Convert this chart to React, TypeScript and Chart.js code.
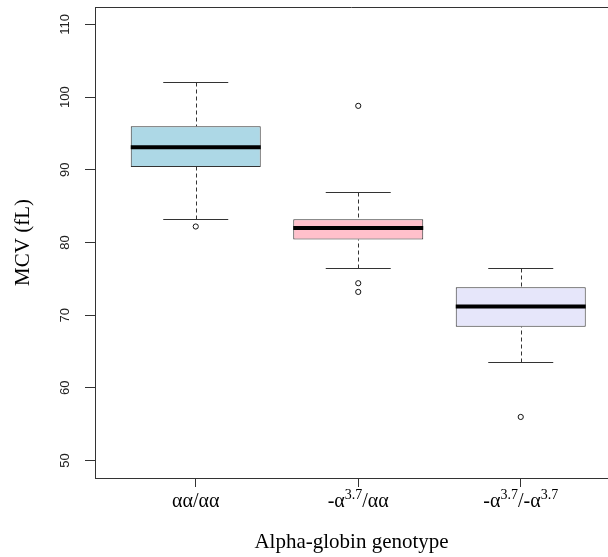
import React, { useEffect, useRef } from 'react';
import { Chart, registerables } from 'chart.js';

Chart.register(...registerables);

// ---- data ----
const categories = ['αα/αα', '-α3.7/αα', '-α3.7/-α3.7'];
// tick label pieces: [text, isSuperscript]
const tickLabelParts: [string, boolean][][] = [
  [['αα/αα', false]],
  [['-α', false], ['3.7', true], ['/αα', false]],
  [['-α', false], ['3.7', true], ['/-α', false], ['3.7', true]],
];
const whiskerLow = [83.2, 76.5, 63.6];
const q1 = [90.4, 80.4, 68.4];
const median = [93.1, 82.0, 71.2];
const q3 = [96.0, 83.2, 73.85];
const whiskerHigh = [102.1, 86.9, 76.5];
const outlierGroup = [1, 2, 2, 2, 3];
const outlierValue = [82.2, 98.8, 74.4, 73.2, 56.0];
const yTicks = [50, 60, 70, 80, 90, 100, 110];
const xTitle = 'Alpha-globin genotype';
const yTitle = 'MCV (fL)';

const boxColors = ['#ADD8E6', '#FFC0CB', '#E6E6FA'];
const LINE = '#333333';
const SERIF = '"Liberation Serif", "Times New Roman", serif';
const SANS = '"Liberation Sans", Arial, sans-serif';

const boxPlugin = {
  id: 'boxExtras',
  afterDatasetsDraw(chart: any) {
    const { ctx } = chart;
    const x = chart.scales.x;
    const y = chart.scales.y;
    ctx.save();
    categories.forEach((_, i) => {
      const c = i + 1;
      const cx = Math.round(x.getPixelForValue(c)) + 0.5;
      const capL = x.getPixelForValue(c - 0.2);
      const capR = x.getPixelForValue(c + 0.2);
      const boxL = x.getPixelForValue(c - 0.4);
      const boxR = x.getPixelForValue(c + 0.4);
      const yHi = Math.round(y.getPixelForValue(whiskerHigh[i])) + 0.5;
      const yLo = Math.round(y.getPixelForValue(whiskerLow[i])) + 0.5;
      const yQ1 = y.getPixelForValue(q1[i]);
      const yQ3 = y.getPixelForValue(q3[i]);
      ctx.strokeStyle = LINE;
      ctx.lineWidth = 1;
      // dashed whiskers
      ctx.setLineDash([4, 3]);
      ctx.beginPath();
      ctx.moveTo(cx, yHi);
      ctx.lineTo(cx, yQ3);
      ctx.moveTo(cx, yLo);
      ctx.lineTo(cx, yQ1);
      ctx.stroke();
      ctx.setLineDash([]);
      // caps
      ctx.beginPath();
      ctx.moveTo(capL, yHi);
      ctx.lineTo(capR, yHi);
      ctx.moveTo(capL, yLo);
      ctx.lineTo(capR, yLo);
      ctx.stroke();
      // median
      const yM = y.getPixelForValue(median[i]);
      ctx.strokeStyle = '#000';
      ctx.lineWidth = 4;
      ctx.lineCap = 'butt';
      ctx.beginPath();
      ctx.moveTo(boxL, yM);
      ctx.lineTo(boxR, yM);
      ctx.stroke();
    });
    ctx.restore();
  },
  afterDraw(chart: any) {
    const { ctx, chartArea } = chart;
    const x = chart.scales.x;
    const y = chart.scales.y;
    ctx.save();
    // top frame line
    ctx.strokeStyle = LINE;
    ctx.lineWidth = 1;
    ctx.beginPath();
    ctx.moveTo(chartArea.left, Math.round(chartArea.top) + 0.5);
    ctx.lineTo(chartArea.right, Math.round(chartArea.top) + 0.5);
    ctx.stroke();

    // y tick labels (rotated, R style)
    ctx.fillStyle = '#222';
    ctx.font = `13px ${SANS}`;
    ctx.textAlign = 'center';
    ctx.textBaseline = 'middle';
    yTicks.forEach((v) => {
      const py = y.getPixelForValue(v);
      ctx.save();
      ctx.translate(chartArea.left - 29.5, py);
      ctx.rotate(-Math.PI / 2);
      ctx.fillText(String(v), 0, 0);
      ctx.restore();
    });

    // x tick labels with superscripts
    ctx.fillStyle = '#000';
    ctx.textAlign = 'left';
    ctx.textBaseline = 'alphabetic';
    const mainFont = `20px ${SERIF}`;
    const supFont = `14px ${SERIF}`;
    const baseY = chartArea.bottom + 29;
    tickLabelParts.forEach((parts, i) => {
      let total = 0;
      const widths = parts.map(([t, sup]) => {
        ctx.font = sup ? supFont : mainFont;
        const w = ctx.measureText(t).width;
        total += w;
        return w;
      });
      let px = x.getPixelForValue(i + 1) - total / 2;
      parts.forEach(([t, sup], k) => {
        ctx.font = sup ? supFont : mainFont;
        ctx.fillText(t, px, sup ? baseY - 8.5 : baseY);
        px += widths[k];
      });
    });
    ctx.restore();
  },
};

export default function App() {
  const ref = useRef<HTMLCanvasElement>(null);
  useEffect(() => {
    if (!ref.current) return;
    const chart = new Chart(ref.current, {
      type: 'bar',
      data: {
        datasets: [
          {
            type: 'bar',
            label: 'box',
            data: categories.map((_, i) => ({ x: i + 1, y: [q1[i], q3[i]] })) as any,
            backgroundColor: boxColors,
            borderColor: LINE,
            borderWidth: 1,
            borderSkipped: false,
            categoryPercentage: 0.8,
            barPercentage: 1,
            grouped: false,
          } as any,
          {
            type: 'scatter',
            label: 'outliers',
            data: outlierValue.map((v, k) => ({ x: outlierGroup[k], y: v })),
            pointRadius: 2.6,
            pointBorderWidth: 1,
            borderColor: '#111',
            backgroundColor: 'rgba(0,0,0,0)',
            pointBackgroundColor: 'rgba(0,0,0,0)',
            pointBorderColor: '#111',
          } as any,
        ],
      },
      options: {
        responsive: false,
        animation: false,
        devicePixelRatio: 1,
        layout: { autoPadding: false, padding: { top: 7, left: 0, right: 0, bottom: 0 } },
        plugins: { legend: { display: false }, tooltip: { enabled: false } },
        scales: {
          x: {
            type: 'linear',
            offset: false,
            min: 0.38,
            max: 3.537,
            afterBuildTicks: (s: any) => {
              s.ticks = categories.map((_, i) => ({ value: i + 1 }));
            },
            afterFit: (s: any) => {
              s.height = 79;
            },
            ticks: { display: false },
            grid: {
              display: true,
              offset: false,
              drawOnChartArea: false,
              drawTicks: true,
              tickLength: 9,
              color: LINE,
              lineWidth: 1,
            },
            border: { display: true, color: LINE, width: 1 },
            title: {
              display: true,
              text: xTitle,
              color: '#000',
              font: { family: SERIF, size: 21, lineHeight: 1.2 },
              padding: { top: 0, bottom: 2 },
            },
          },
          y: {
            type: 'linear',
            min: 47.6,
            max: 112.4,
            afterBuildTicks: (s: any) => {
              s.ticks = yTicks.map((v) => ({ value: v }));
            },
            afterFit: (s: any) => {
              s.width = 95;
            },
            ticks: { display: false },
            grid: {
              display: true,
              drawOnChartArea: false,
              drawTicks: true,
              tickLength: 10,
              color: LINE,
              lineWidth: 1,
            },
            border: { display: true, color: LINE, width: 1 },
            title: {
              display: true,
              text: yTitle,
              color: '#000',
              font: { family: SERIF, size: 21, lineHeight: 1.2 },
              padding: { top: 11, bottom: 0 },
            },
          },
        },
      } as any,
      plugins: [boxPlugin],
    });
    return () => chart.destroy();
  }, []);
  return (
    <div style={{ position: 'absolute', left: 0, top: 0, width: 608, height: 557 }}>
      <canvas ref={ref} width={608} height={557} />
    </div>
  );
}
